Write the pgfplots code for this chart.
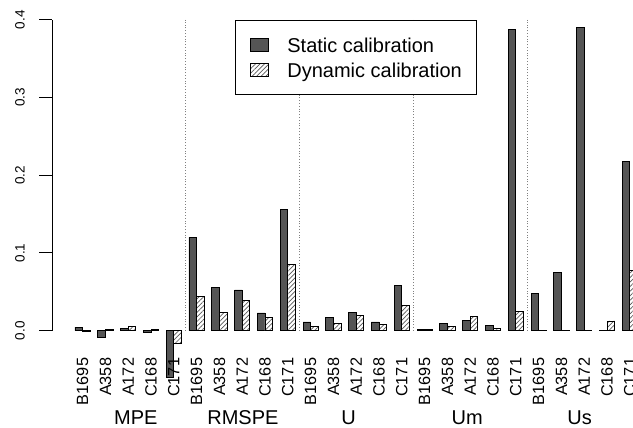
\documentclass[border=0pt]{standalone}
\usepackage{pgfplots}
\pgfplotsset{compat=1.18}
\usepackage{fontspec}
\setmainfont{Liberation Sans}
\usetikzlibrary{patterns.meta}
\definecolor{statgray}{RGB}{85,85,85}
\pgfplotstableread{
x y
1.5 0.0045
4.5 -0.0085
7.5 0.003
10.5 -0.002
13.5 -0.0595
16.5 0.120
19.5 0.0559
22.5 0.0524
25.5 0.0228
28.5 0.156
31.5 0.0112
34.5 0.0167
37.5 0.0237
40.5 0.0112
43.5 0.0576
46.5 0.0015
49.5 0.0094
52.5 0.0129
55.5 0.0070
58.5 0.3872
61.5 0.048
64.5 0.0747
67.5 0.3906
70.5 0.0008
73.5 0.2176
}\statictab
\pgfplotstableread{
x y
2.5 -0.001
5.5 0.002
8.5 0.005
11.5 0.002
14.5 -0.0163
17.5 0.0438
20.5 0.0237
23.5 0.0386
26.5 0.0176
29.5 0.0855
32.5 0.0056
35.5 0.009
38.5 0.0193
41.5 0.0077
44.5 0.033
47.5 0.002
50.5 0.005
53.5 0.018
56.5 0.003
59.5 0.0245
62.5 0.0008
65.5 0.0008
68.5 0.0008
71.5 0.0125
74.5 0.0773
}\dyntab
\begin{document}
\begin{tikzpicture}
\begin{axis}[
 at={(52.5pt,97.3pt)}, anchor=south west,
 scale only axis, width=607.4pt, height=311pt,
 xmin=-1.96, xmax=77.96, ymin=0, ymax=0.4,
 enlarge x limits=false, enlarge y limits=false,
 clip=false, axis on top=true,
 axis y line=left, axis x line=bottom,
 axis line style={-, line width=0.9pt, black},
 x axis line style={draw=none},
 ytick={0,0.1,0.2,0.3,0.4},
 yticklabels={0.0,0.1,0.2,0.3,0.4},
 tick align=outside,
 major tick length=13pt,
 ytick style={line width=0.9pt, black},
 xtick style={draw=none},
 xtick={2,5,...,74},
 xticklabels={B1695,A358,A172,C168,C171,B1695,A358,A172,C168,C171,B1695,A358,A172,C168,C171,B1695,A358,A172,C168,C171,B1695,A358,A172,C168,C171},
 yticklabel style={rotate=90, anchor=south, inner sep=0pt, font=\fontsize{13.5}{15}\selectfont},
 xticklabel style={rotate=90, anchor=east, inner sep=0pt, font=\fontsize{16.3}{19}\selectfont},
 yticklabel shift=14.5pt,
 xticklabel shift=14pt,
 legend cell align=left,
 legend style={at={(0.3005,1)}, anchor=north west, draw=black, line width=0.9pt,
   inner xsep=15pt, inner ysep=16pt, font=\fontsize{20}{24}\selectfont,
   row sep=6pt, column sep=18pt, nodes={inner sep=0pt}},
 legend image code/.code={\draw[#1, line width=0.9pt] (0pt,-6.5pt) rectangle (18pt,6.5pt);},
]
\addplot[forget plot, dotted, gray, line width=0.8pt] coordinates {(15.5,0) (15.5,0.4)};
\addplot[forget plot, dotted, gray, line width=0.8pt] coordinates {(30.5,0) (30.5,0.4)};
\addplot[forget plot, dotted, gray, line width=0.8pt] coordinates {(45.5,0) (45.5,0.4)};
\addplot[forget plot, dotted, gray, line width=0.8pt] coordinates {(60.5,0) (60.5,0.4)};
\addplot[ybar, bar width=1, bar shift=0pt, fill=statgray, draw=black, line width=0.9pt] table[x=x,y=y] {\statictab};
\addlegendentry{\strut Static calibration}
\addplot[ybar, bar width=1, bar shift=0pt, fill=white, draw=black, line width=0.9pt,
  postaction={pattern={Lines[angle=45,distance=3.2pt,line width=0.7pt]}, pattern color=black!65}] table[x=x,y=y] {\dyntab};
\addlegendentry{\strut Dynamic calibration}
\node[anchor=base, yshift=-94.3pt, font=\fontsize{20}{24}\selectfont] at (axis cs:9.0,0) {MPE};
\node[anchor=base, yshift=-94.3pt, font=\fontsize{20}{24}\selectfont] at (axis cs:23.1,0) {RMSPE};
\node[anchor=base, yshift=-94.3pt, font=\fontsize{20}{24}\selectfont] at (axis cs:37.0,0) {U};
\node[anchor=base, yshift=-94.3pt, font=\fontsize{20}{24}\selectfont] at (axis cs:52.6,0) {Um};
\node[anchor=base, yshift=-94.3pt, font=\fontsize{20}{24}\selectfont] at (axis cs:67.4,0) {Us};
\end{axis}
\pgfresetboundingbox
\path[use as bounding box] (0pt,0pt) rectangle (633pt,428pt);
\end{tikzpicture}
\end{document}
